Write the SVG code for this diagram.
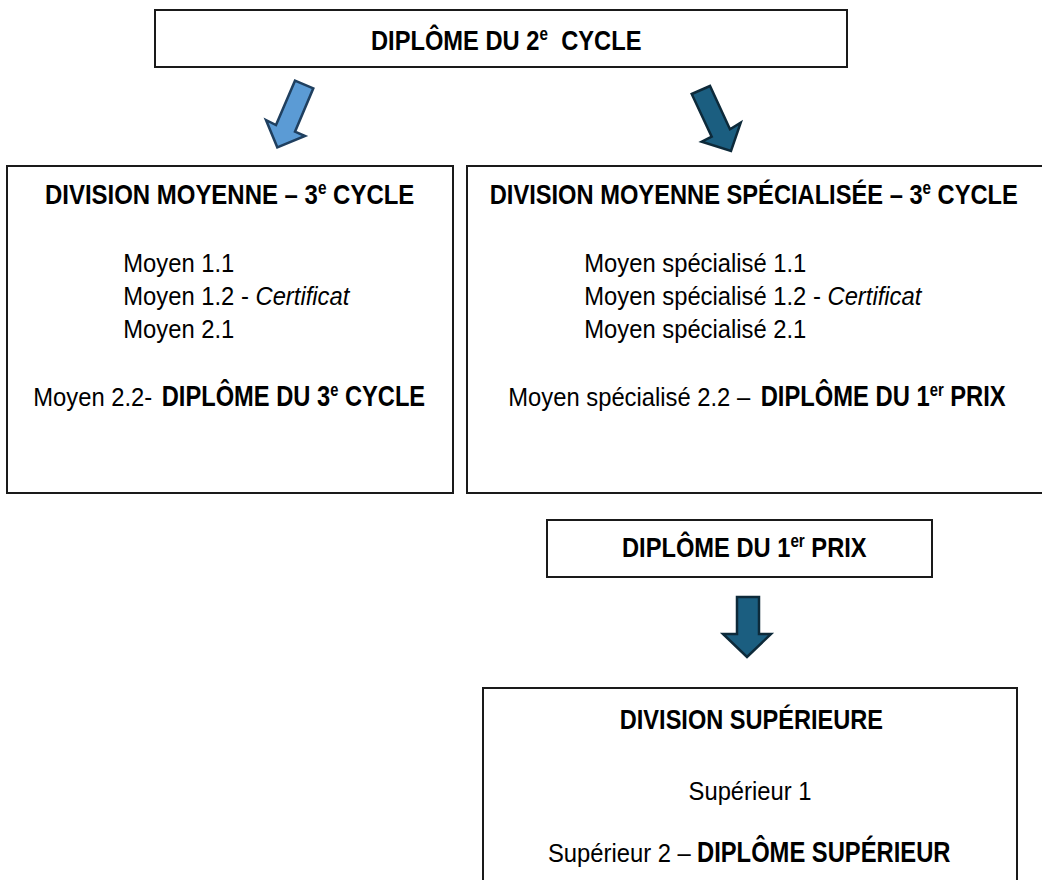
<svg xmlns="http://www.w3.org/2000/svg" width="1042" height="880" viewBox="0 0 1042 880">
<style>
.box{fill:#fff;stroke:#1a1a1a;stroke-width:2}
.t{font-family:"Liberation Sans",Arial,sans-serif;fill:#000;font-size:26px}
.h{font-weight:bold;font-size:28px}
.b{font-weight:bold;font-size:29px}
.i{font-style:italic}
.a1{fill:#5b9bd5;stroke:#1f3f5f;stroke-width:2.5;stroke-linejoin:miter}
.a2{fill:#1b5e80;stroke:#0d2a3a;stroke-width:2.5;stroke-linejoin:miter}
</style>
<rect width="1042" height="880" fill="#fff"/>
<g id="node-diplome2">
<rect class="box" x="155" y="10" width="692" height="57"/>
<text class="t h" transform="translate(371 0) scale(0.846 1)" x="0" y="50">DIPLÔME DU 2<tspan font-size="18" dy="-10">e</tspan><tspan dx="8" dy="10"> CYCLE</tspan></text>
</g>
<g id="node-moyenne">
<rect class="box" x="7" y="166" width="446" height="327"/>
<text class="t h" transform="translate(45 0) scale(0.856 1)" x="0" y="204">DIVISION MOYENNE – 3<tspan font-size="18" dy="-10">e</tspan><tspan dy="10"> CYCLE</tspan></text>
<g transform="translate(123.3 0) scale(0.915 1)">
<text class="t" x="0" y="272">Moyen 1.1</text>
<text class="t" x="0" y="305">Moyen 1.2 - <tspan class="i">Certificat</tspan></text>
<text class="t" x="0" y="338">Moyen 2.1</text>
</g>
<text class="t" transform="translate(33.3 0) scale(0.915 1)" x="0" y="406">Moyen 2.2-</text>
<text class="t b" transform="translate(161.7 0) scale(0.817 1)" x="0" y="406">DIPLÔME DU 3<tspan font-size="18" dy="-10">e</tspan><tspan dy="10"> CYCLE</tspan></text>
</g>
<g id="node-specialisee">
<rect class="box" x="467" y="166" width="580" height="327"/>
<text class="t h" transform="translate(489.7 0) scale(0.846 1)" x="0" y="204">DIVISION MOYENNE SPÉCIALISÉE – 3<tspan font-size="18" dy="-10">e</tspan><tspan dy="10"> CYCLE</tspan></text>
<g transform="translate(584.3 0) scale(0.915 1)">
<text class="t" x="0" y="272">Moyen spécialisé 1.1</text>
<text class="t" x="0" y="305">Moyen spécialisé 1.2 - <tspan class="i">Certificat</tspan></text>
<text class="t" x="0" y="338">Moyen spécialisé 2.1</text>
</g>
<text class="t" transform="translate(508.3 0) scale(0.915 1)" x="0" y="406">Moyen spécialisé 2.2 –</text>
<text class="t b" transform="translate(760.7 0) scale(0.82 1)" x="0" y="406">DIPLÔME DU 1<tspan font-size="18" dy="-10">er</tspan><tspan dy="10"> PRIX</tspan></text>
</g>
<g id="node-premier-prix">
<rect class="box" x="547" y="520" width="385" height="57"/>
<text class="t h" transform="translate(622 0) scale(0.846 1)" x="0" y="557">DIPLÔME DU 1<tspan font-size="18" dy="-10">er</tspan><tspan dy="10"> PRIX</tspan></text>
</g>
<g id="node-superieure">
<rect class="box" x="483" y="688" width="534" height="200"/>
<text class="t h" transform="translate(619.8 0) scale(0.842 1)" x="0" y="729">DIVISION SUPÉRIEURE</text>
<text class="t" transform="translate(750 0) scale(0.915 1)" x="0" y="800" text-anchor="middle">Supérieur 1</text>
<text class="t" transform="translate(548 0) scale(0.915 1)" x="0" y="862">Supérieur 2 –</text>
<text class="t b" transform="translate(697 0) scale(0.82 1)" x="0" y="862">DIPLÔME SUPÉRIEUR</text>
</g>
<g id="connectors">
<polygon class="a1" points="295,80.7 313.3,88.3 295,131.7 305,136 277.3,147.3 266,120 276,125"/>
<polygon class="a2" points="691.7,94 710,86 730,129.3 740.7,122.7 731,151 701.7,141.7 711.7,136.7"/>
<polygon class="a2" points="737,597 759,597 759,634 771,634 747,657 723,634 737,634"/>
</g>
</svg>
